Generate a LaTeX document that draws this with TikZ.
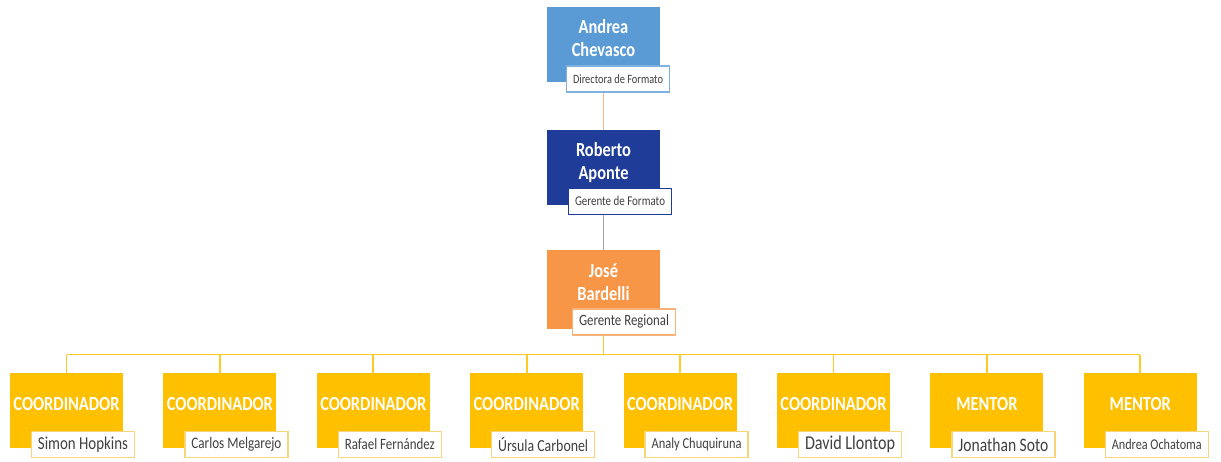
\documentclass[tikz,border=0pt]{standalone}
\usepackage{fontspec}
\setmainfont{Carlito}[FakeStretch=0.82]
\usepackage{graphicx}
\usetikzlibrary{positioning,backgrounds,calc}
\definecolor{azulc}{HTML}{5B9BD5}
\definecolor{azulo}{HTML}{1F3C99}
\definecolor{naranja}{HTML}{F79646}
\definecolor{amarillo}{HTML}{FFC000}
\definecolor{tagamar}{HTML}{F8D47A}
\definecolor{tagnar}{HTML}{F8B27A}
\definecolor{tagazul}{HTML}{7EB1DE}
\newcommand{\fitname}[1]{\resizebox{90pt}{!}{\fontsize{14}{16}\selectfont #1}}

\begin{document}
\begin{tikzpicture}[
  x=1pt, y=-1pt,
  base/.style    = {rectangle, align=center, inner sep=2pt, text=white,
                    minimum width=113pt, minimum height=75pt, text depth=13pt,
                    font=\bfseries\fontsize{20}{23}\selectfont},
  jefeA/.style   = {base, fill=azulc},
  jefeB/.style   = {base, fill=azulo},
  jefeC/.style   = {base, fill=naranja, minimum height=79pt, text depth=15pt},
  cargo/.style   = {base, fill=amarillo},
  tag/.style     = {rectangle, fill=white, line width=1.4pt, inner sep=0pt,
                    minimum width=103pt, minimum height=26pt, text=black!75,
                    anchor=south east},
  lnA/.style     = {draw=naranja!65, line width=1.6pt},
  lnB/.style     = {draw=black!35, line width=1.6pt},
  lnC/.style     = {draw=amarillo!85, line width=1.7pt},
]
\useasboundingbox (0,0) rectangle (1221,461);

% ── jefaturas ───────────────────────────────────────────────────────────
\node[jefeA] (andrea) at (603.5,44) {Andrea\\Chevasco};
\node[jefeB, below=48pt of andrea] (roberto) {Roberto\\Aponte};
\node[jefeC, below=45pt of roberto] (jose) {José\\Bardelli};

\node[tag, draw=tagazul] (andreaT) at ([shift={(10pt,-11pt)}]andrea.south east)
     {\fitname{Directora de Formato}};
\node[tag, draw=azulo] (robertoT) at ([shift={(12pt,-10pt)}]roberto.south east)
     {\fitname{Gerente de Formato}};
\node[tag, draw=tagnar] (joseT) at ([shift={(16pt,-6pt)}]jose.south east)
     {\fitname{Gerente Regional}};

% ── coordinadores y mentores ────────────────────────────────────────────
\foreach \i/\rol/\nom in {1/COORDINADOR/Simon Hopkins, 2/COORDINADOR/Carlos Melgarejo,
    3/COORDINADOR/Rafael Fernández, 4/COORDINADOR/Úrsula Carbonel,
    5/COORDINADOR/Analy Chuquiruna, 6/COORDINADOR/David Llontop,
    7/MENTOR/Jonathan Soto, 8/MENTOR/Andrea Ochatoma} {
  \node[cargo] (c\i) at ({66.5+153.4*(\i-1)},410.5) {\rol};
  \node[tag, draw=tagamar] (n\i) at ([shift={(12pt,-10pt)}]c\i.south east) {\fitname{\nom}};
}

\coordinate (bar) at ($(jose.south)+(0,25)$);

\begin{scope}[on background layer]
  \draw[lnA] (andrea.south) -- (roberto.north);
  \draw[lnB] (roberto.south) -- (jose.north);
  \draw[lnC] (jose.south) -- (bar);
  \draw[lnC] (c1.north |- bar) -- (c8.north |- bar);
  \foreach \i in {1,...,8} {
    \draw[lnC] (c\i.north |- bar) -- (c\i.north);
  }
\end{scope}
\end{tikzpicture}
\end{document}
